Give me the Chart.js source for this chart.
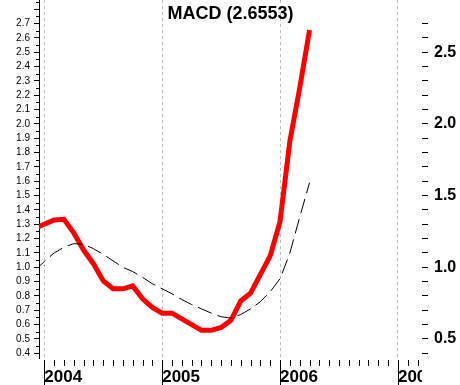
<!DOCTYPE html>
<html>
<head>
<meta charset="utf-8">
<script src="https://cdn.jsdelivr.net/npm/chart.js@4"></script>
<style>
  html, body { margin: 0; padding: 0; background: #fff; }
  canvas { display: block; }
</style>
</head>
<body>
<canvas id="macdChart" width="460" height="385"></canvas>
<script>
// months counted from Jan 2004 (0 = Jan 2004, -1 = Dec 2003)
const months = [-1, 0, 1, 2, 3, 4, 5, 6, 7, 8, 9, 10, 11, 12, 13, 14, 15, 16, 17, 18, 19, 20, 21, 22, 23, 24, 25, 26, 27];
const macd = [1.27, 1.30, 1.33, 1.335, 1.24, 1.12, 1.025, 0.905, 0.85, 0.85, 0.87, 0.78, 0.72,
              0.68, 0.68, 0.64, 0.60, 0.56, 0.56, 0.58, 0.63, 0.765, 0.82, 0.95, 1.08,
              1.32, 1.88, 2.25, 2.6553];
const signal = [0.975, 1.04, 1.10, 1.14, 1.165, 1.16, 1.13, 1.09, 1.045, 1.00, 0.97, 0.93, 0.885,
                0.85, 0.815, 0.775, 0.74, 0.71, 0.68, 0.655, 0.645, 0.67, 0.71, 0.76, 0.83,
                0.92, 1.10, 1.35, 1.59];

const years = ['2004', '2005', '2006', '2007'];
const leftTicks = [0.4, 0.5, 0.6, 0.7, 0.8, 0.9, 1.0, 1.1, 1.2, 1.3, 1.4, 1.5, 1.6, 1.7, 1.8,
                   1.9, 2.0, 2.1, 2.2, 2.3, 2.4, 2.5, 2.6, 2.7, 2.8];
const rightTicks = leftTicks.slice(0, -1);
const rightLabels = ['0.5', '1.0', '1.5', '2.0', '2.5'];
const title = 'MACD (2.6553)';

const yMin = 0.367, yMax = 2.865;
const monthTicks = [];
for (let m = 0; m <= 38; m++) monthTicks.push(m);

Chart.defaults.font.family = "'Liberation Sans', Arial, sans-serif";
Chart.defaults.color = '#000';

// short month marks, long year marks, half steps on the left axis, title
const axisMarks = {
  id: 'axisMarks',
  afterDraw(chart) {
    const {ctx, chartArea, scales} = chart;
    ctx.save();
    ctx.fillStyle = '#fff';
    ctx.fillRect(chartArea.right, chartArea.bottom + 1, chart.width - chartArea.right, chart.height);
    ctx.strokeStyle = '#000';
    ctx.lineWidth = 1;
    scales.x.ticks.forEach(t => {
      const x = Math.round(scales.x.getPixelForValue(t.value)) + 0.5;
      const isYear = t.value % 12 === 0;
      ctx.beginPath();
      ctx.moveTo(x, chartArea.bottom + 2);
      ctx.lineTo(x, isYear ? chart.height : chartArea.bottom + 8);
      ctx.stroke();
    });
    scales.y.ticks.forEach(t => {
      const y = Math.round(scales.y.getPixelForValue(t.value + 0.05)) + 0.5;
      if (y < chartArea.top) return;
      ctx.beginPath();
      ctx.moveTo(chartArea.left - 3, y);
      ctx.lineTo(chartArea.left, y);
      ctx.stroke();
    });
    ctx.fillStyle = '#000';
    ctx.font = "bold 18px 'Liberation Sans', Arial, sans-serif";
    ctx.textAlign = 'center';
    ctx.textBaseline = 'middle';
    ctx.fillText(title, (chartArea.left + chartArea.right) / 2, chartArea.top + 14);
    ctx.restore();
  }
};

new Chart(document.getElementById('macdChart'), {
  type: 'line',
  data: {
    datasets: [{
      label: 'Signal',
      data: months.map((m, i) => ({x: m, y: signal[i]})),
      borderColor: '#000',
      borderWidth: 1,
      borderDash: [15, 6],
      pointRadius: 0,
      clip: 0
    }, {
      label: 'MACD',
      data: months.map((m, i) => ({x: m, y: macd[i]})),
      borderColor: '#ff0000',
      borderWidth: 5,
      pointRadius: 0,
      clip: 0
    }]
  },
  options: {
    responsive: false,
    animation: false,
    layout: { padding: 0 },
    plugins: {
      legend: { display: false },
      tooltip: { enabled: false }
    },
    scales: {
      x: {
        type: 'linear',
        min: -0.54,
        max: 38.45,
        afterBuildTicks: s => { s.ticks = monthTicks.map(v => ({value: v})); },
        afterFit: s => { s.height = 27; s.paddingLeft = 0; s.paddingRight = 0; },
        grid: {
          color: c => (c.tick && c.tick.value % 12 === 0) ? '#bdbdbd' : 'rgba(0,0,0,0)',
          drawTicks: false
        },
        border: { display: false, dash: [3, 3] },
        ticks: {
          autoSkip: false,
          maxRotation: 0,
          align: 'start',
          padding: 9,
          font: { size: 17, weight: 'bold' },
          callback: v => v % 12 === 0 ? years[v / 12] : ''
        }
      },
      y: {
        position: 'left',
        min: yMin,
        max: yMax,
        afterBuildTicks: s => { s.ticks = leftTicks.map(v => ({value: v})); },
        afterFit: s => { s.width = 39; s.paddingTop = 0; s.paddingBottom = 0; },
        grid: { drawOnChartArea: false, tickLength: 5, tickColor: '#000' },
        border: { display: true, color: '#000', width: 1 },
        ticks: {
          autoSkip: false,
          padding: 4,
          font: { size: 10 },
          callback: v => v > 2.75 ? '' : v.toFixed(1)
        }
      },
      y2: {
        position: 'right',
        min: yMin,
        max: yMax,
        afterBuildTicks: s => { s.ticks = rightTicks.map(v => ({value: v})); },
        afterFit: s => { s.width = 38; s.paddingTop = 0; s.paddingBottom = 0; },
        grid: { drawOnChartArea: false, tickLength: 6, tickColor: '#000' },
        border: { display: false },
        ticks: {
          autoSkip: false,
          padding: 6,
          font: { size: 16, weight: 'bold' },
          callback: v => rightLabels.includes(v.toFixed(1)) ? v.toFixed(1) : ''
        }
      }
    }
  },
  plugins: [axisMarks]
});
</script>
</body>
</html>
